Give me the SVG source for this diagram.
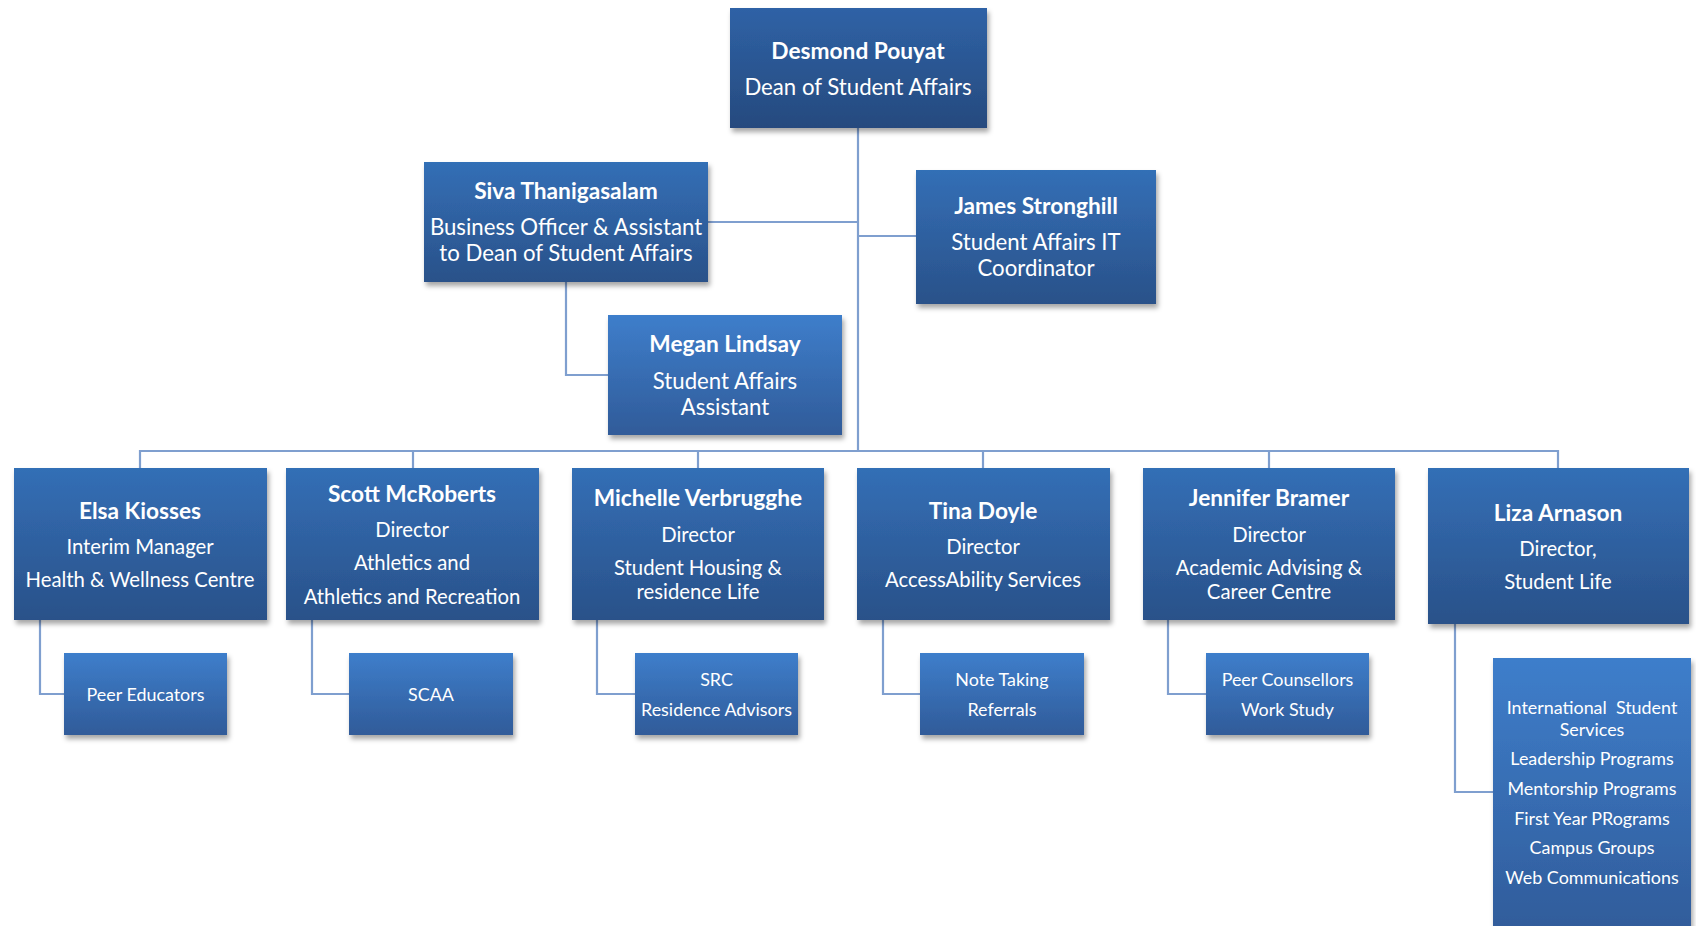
<svg xmlns="http://www.w3.org/2000/svg" width="1696" height="926" viewBox="0 0 1696 926">
<defs>
<linearGradient id="gDean" x1="0" y1="0" x2="0" y2="1"><stop offset="0" stop-color="#2f62a6"/><stop offset="1" stop-color="#264a7e"/></linearGradient>
<linearGradient id="gMid" x1="0" y1="0" x2="0" y2="1"><stop offset="0" stop-color="#336fb6"/><stop offset="1" stop-color="#2a5189"/></linearGradient>
<linearGradient id="gLight" x1="0" y1="0" x2="0" y2="1"><stop offset="0" stop-color="#3e7ecb"/><stop offset="1" stop-color="#305b99"/></linearGradient>
<filter id="sh" x="-10%" y="-10%" width="125%" height="130%"><feDropShadow dx="2" dy="4" stdDeviation="2.5" flood-color="#000" flood-opacity="0.35"/></filter>
<style>
.box{filter:url(#sh)}
.t{font-family:Lato,"Liberation Sans",sans-serif;fill:#fff;text-anchor:middle}
.n{font-weight:bold;font-size:22.7px}
.s{font-size:22.2px}
.d{font-size:20.3px}
.u{font-size:17.9px}
.c{fill:none;stroke:#7f9fcf;stroke-width:2.2}
</style>
</defs>
<rect width="1696" height="926" fill="#fff"/>
<g id="connectors" class="c">
<path d="M858 128V451"/>
<path d="M708 222H858"/>
<path d="M858 236H916"/>
<path d="M566 282V375H608"/>
<path d="M140 468V451H1558V468"/>
<path d="M413 451V468"/>
<path d="M698 451V468"/>
<path d="M983 451V468"/>
<path d="M1269 451V468"/>
<path d="M40 620V694H64"/>
<path d="M312 620V694H349"/>
<path d="M597 620V694H635"/>
<path d="M883 620V694H920"/>
<path d="M1168 620V694H1206"/>
<path d="M1455 624V792H1493"/>
</g>
<g id="dean"><rect class="box" x="730" y="8" width="257" height="120" fill="url(#gDean)"/>
<text class="t n" x="858" y="59">Desmond Pouyat</text><text class="t s" x="858" y="95">Dean of Student Affairs</text></g>
<g id="siva"><rect class="box" x="424" y="162" width="284" height="120" fill="url(#gMid)"/>
<text class="t n" x="566" y="199">Siva Thanigasalam</text><text class="t s" x="566" y="235">Business Officer &amp; Assistant</text><text class="t s" x="566" y="261">to Dean of Student Affairs</text></g>
<g id="james"><rect class="box" x="916" y="170" width="240" height="134" fill="url(#gMid)"/>
<text class="t n" x="1036" y="214">James Stronghill</text><text class="t s" x="1036" y="250">Student Affairs IT</text><text class="t s" x="1036" y="276">Coordinator</text></g>
<g id="megan"><rect class="box" x="608" y="315" width="234" height="120" fill="url(#gLight)"/>
<text class="t n" x="725" y="352">Megan Lindsay</text><text class="t s" x="725" y="389">Student Affairs</text><text class="t s" x="725" y="415">Assistant</text></g>
<g id="elsa"><rect class="box" x="14" y="468" width="253" height="152" fill="url(#gMid)"/>
<text class="t n" x="140" y="519">Elsa Kiosses</text><text class="t d" x="140" y="554">Interim Manager</text><text class="t d" x="140" y="587">Health &amp; Wellness Centre</text></g>
<g id="scott"><rect class="box" x="286" y="468" width="253" height="152" fill="url(#gMid)"/>
<text class="t n" x="412" y="502">Scott McRoberts</text><text class="t d" x="412" y="537">Director</text><text class="t d" x="412" y="570">Athletics and</text><text class="t d" x="412" y="604">Athletics and Recreation</text></g>
<g id="michelle"><rect class="box" x="572" y="468" width="252" height="152" fill="url(#gMid)"/>
<text class="t n" x="698" y="506">Michelle Verbrugghe</text><text class="t d" x="698" y="542">Director</text><text class="t d" x="698" y="575">Student Housing &amp;</text><text class="t d" x="698" y="599">residence Life</text></g>
<g id="tina"><rect class="box" x="857" y="468" width="253" height="152" fill="url(#gMid)"/>
<text class="t n" x="983" y="519">Tina Doyle</text><text class="t d" x="983" y="554">Director</text><text class="t d" x="983" y="587">AccessAbility Services</text></g>
<g id="jennifer"><rect class="box" x="1143" y="468" width="252" height="152" fill="url(#gMid)"/>
<text class="t n" x="1269" y="506">Jennifer Bramer</text><text class="t d" x="1269" y="542">Director</text><text class="t d" x="1269" y="575">Academic Advising &amp;</text><text class="t d" x="1269" y="599">Career Centre</text></g>
<g id="liza"><rect class="box" x="1428" y="468" width="261" height="156" fill="url(#gMid)"/>
<text class="t n" x="1558" y="521">Liza Arnason</text><text class="t d" x="1558" y="556">Director,</text><text class="t d" x="1558" y="589">Student Life</text></g>
<g id="peer-educators"><rect class="box" x="64" y="653" width="163" height="82" fill="url(#gLight)"/>
<text class="t u" x="145.5" y="701">Peer Educators</text></g>
<g id="scaa"><rect class="box" x="349" y="653" width="164" height="82" fill="url(#gLight)"/>
<text class="t u" x="431" y="701">SCAA</text></g>
<g id="src"><rect class="box" x="635" y="653" width="163" height="82" fill="url(#gLight)"/>
<text class="t u" x="716.5" y="686">SRC</text><text class="t u" x="716.5" y="716">Residence Advisors</text></g>
<g id="note-taking"><rect class="box" x="920" y="653" width="164" height="82" fill="url(#gLight)"/>
<text class="t u" x="1002" y="686">Note Taking</text><text class="t u" x="1002" y="716">Referrals</text></g>
<g id="peer-counsellors"><rect class="box" x="1206" y="653" width="163" height="82" fill="url(#gLight)"/>
<text class="t u" x="1287.5" y="686">Peer Counsellors</text><text class="t u" x="1287.5" y="716">Work Study</text></g>
<g id="student-life-programs"><rect class="box" x="1493" y="658" width="198" height="280" fill="url(#gLight)"/>
<text class="t u" x="1592" y="714" xml:space="preserve">International  Student</text><text class="t u" x="1592" y="736">Services</text><text class="t u" x="1592" y="765">Leadership Programs</text><text class="t u" x="1592" y="795">Mentorship Programs</text><text class="t u" x="1592" y="825">First Year PRograms</text><text class="t u" x="1592" y="854">Campus Groups</text><text class="t u" x="1592" y="884">Web Communications</text></g>
</svg>
